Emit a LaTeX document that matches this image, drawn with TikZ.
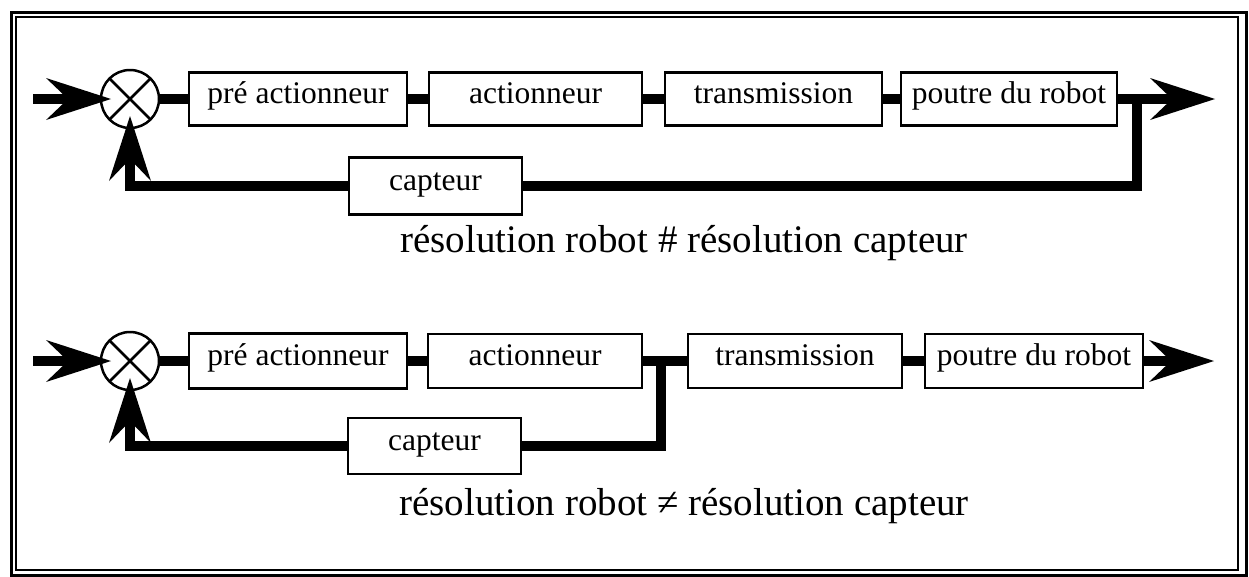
\documentclass[tikz,border=0pt]{standalone}
\usepackage{fontspec}
\setmainfont{Liberation Serif}
\usetikzlibrary{arrows.meta}
\begin{document}
\begin{tikzpicture}[x=1pt,y=-1pt,
  blk/.style={draw, line width=2.5pt, inner sep=0pt, outer sep=0pt, minimum height=53pt,
    text height=18pt, text depth=10pt, font=\fontsize{31.5}{36}\selectfont},
  sumnode/.style={draw, circle, line width=2.5pt, minimum size=58pt, inner sep=0pt, outer sep=0pt},
  flow/.style={line width=10pt},
  tipped/.style={flow, -{Stealth[length=65pt,width=42pt,inset=22pt,line width=0pt]}},
  caption/.style={font=\fontsize{39}{44}\selectfont, anchor=base, inner sep=0pt}]
\useasboundingbox (0,0) rectangle (1249,576);
% frame
\draw[line width=3pt] (11,12) rectangle (1246,575);
\draw[line width=2pt] (16,17) rectangle (1238,570);

% ---------- row 1 ----------
\node[sumnode] (s1) at (130,99) {};
\draw[line width=2.5pt] (s1.north west) -- (s1.south east) (s1.north east) -- (s1.south west);
\node[blk, minimum width=218pt] (p1) at (298,99) {pré actionneur};
\node[blk, minimum width=213pt] (a1) at (535.5,99) {actionneur};
\node[blk, minimum width=217pt] (t1) at (773.5,99) {transmission};
\node[blk, minimum width=216pt] (r1) at (1009,99) {poutre du robot};
\node[blk, minimum width=173pt, minimum height=57pt] (c1) at (435.5,186) {capteur};
\coordinate (in1) at (33,99);
\coordinate (out1) at (1215,99);
\coordinate (j1) at (1137,99);
\draw[tipped] (in1) -- ([xshift=10pt]s1.west);
\draw[flow] (s1.east) -- (p1.west);
\draw[flow] (p1.east) -- (a1.west);
\draw[flow] (a1.east) -- (t1.west);
\draw[flow] (t1.east) -- (r1.west);
\draw[tipped] (r1.east) -- (out1);
\draw[flow] (j1) |- (c1.east);
\draw[tipped] (c1.west) -| ([yshift=12pt]s1.south);
\node[caption] (cap1) at (684,252) {résolution robot \# résolution capteur};

% ---------- row 2 ----------
\node[sumnode] (s2) at (130,361) {};
\draw[line width=2.5pt] (s2.north west) -- (s2.south east) (s2.north east) -- (s2.south west);
\node[blk, minimum width=218pt, minimum height=55pt] (p2) at (298,361) {pré actionneur};
\node[blk, minimum width=214pt, minimum height=54pt] (a2) at (535,361) {actionneur};
\node[blk, minimum width=214pt, minimum height=54pt] (t2) at (795,361) {transmission};
\node[blk, minimum width=218pt, minimum height=54pt] (r2) at (1034,361) {poutre du robot};
\node[blk, minimum width=173pt, minimum height=56pt] (c2) at (434.5,446) {capteur};
\coordinate (in2) at (33,361);
\coordinate (out2) at (1214,361);
\coordinate (j2) at (661,361);
\draw[tipped] (in2) -- ([xshift=10pt]s2.west);
\draw[flow] (s2.east) -- (p2.west);
\draw[flow] (p2.east) -- (a2.west);
\draw[flow] (a2.east) -- (t2.west);
\draw[flow] (t2.east) -- (r2.west);
\draw[tipped] (r2.east) -- (out2);
\draw[flow] (j2) |- (c2.east);
\draw[tipped] (c2.west) -| ([yshift=12pt]s2.south);
\node[caption] (cap2) at (684,515) {résolution robot ≠ résolution capteur};
\end{tikzpicture}
\end{document}
